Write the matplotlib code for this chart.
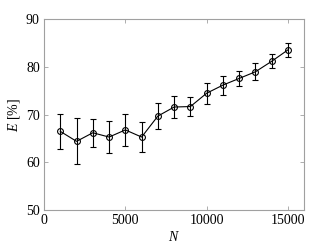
import numpy as np
from matplotlib import pyplot as plt

plt.rcParams['font.family'] = ['Liberation Serif', 'DejaVu Serif']
plt.rcParams['mathtext.fontset'] = 'custom'
plt.rcParams['mathtext.it'] = 'Liberation Serif:italic'
plt.rcParams['mathtext.rm'] = 'Liberation Serif'

# data
N = [1000, 2000, 3000, 4000, 5000, 6000, 7000, 8000,
     9000, 10000, 11000, 12000, 13000, 14000, 15000]
E = [66.5, 64.4, 66.2, 65.3, 66.8, 65.3, 69.7, 71.6,
     71.7, 74.5, 76.2, 77.6, 79.0, 81.2, 83.6]
E_err = [3.7, 4.8, 2.9, 3.3, 3.4, 3.2, 2.7, 2.3,
         2.0, 2.2, 2.0, 1.6, 1.8, 1.5, 1.5]

xticks = [0, 5000, 10000, 15000]
yticks = [50, 60, 70, 80, 90]

fig = plt.figure(figsize=(3.36, 2.52), dpi=100)
ax = fig.add_axes([44/336, 1 - 210/252, (304.3-44)/336, (210-19.3)/252])

ax.errorbar(N, E, yerr=E_err, color='black', lw=0.8, marker='o',
            markersize=4.2, markerfacecolor='none', markeredgewidth=0.8,
            capsize=2.2, elinewidth=0.8, capthick=0.8)

ax.set_xlim(0, 16000)
ax.set_ylim(50, 90)
ax.set_xticks(xticks)
ax.set_yticks(yticks)
ax.tick_params(direction='in', top=True, right=True, labelsize=10,
               color='#a0a0a0', length=3, width=0.6, pad=3)
for s in ax.spines.values():
    s.set_color('#a0a0a0')
    s.set_linewidth(0.8)

ax.set_xlabel('$N$', fontsize=10, labelpad=2)
ax.set_ylabel('$E$ [%]', fontsize=10, labelpad=3)

fig.savefig('out.png', dpi=100)
